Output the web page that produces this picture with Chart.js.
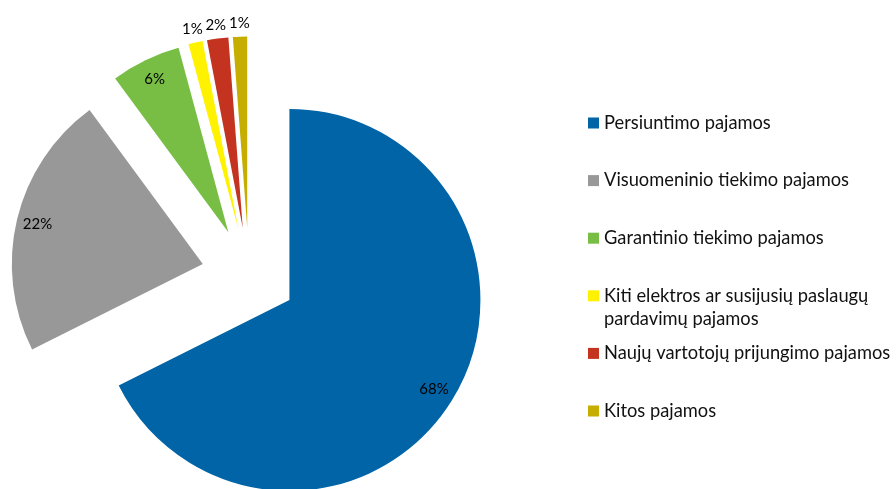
<!DOCTYPE html>
<html>
<head>
<meta charset="utf-8">
<script src="https://cdn.jsdelivr.net/npm/chart.js@4.4.1/dist/chart.umd.min.js"></script>
<style>
    html, body { margin: 0; padding: 0; background: #fff; }
    #wrap { width: 896px; height: 489px; position: relative; }
</style>
</head>
<body>
<div id="wrap"><canvas id="pieChart"></canvas></div>
<script>
const categories = [
    'Persiuntimo pajamos',
    'Visuomeninio tiekimo pajamos',
    'Garantinio tiekimo pajamos',
    ['Kiti elektros ar susijusių paslaugų', 'pardavimų pajamos'],
    'Naujų vartotojų prijungimo pajamos',
    'Kitos pajamos'
];
const shares = [67.6, 22.3, 5.9, 1.2, 1.8, 1.2];
const colors = ['#0064a6', '#989898', '#78be45', '#fff200', '#c3331f', '#c5ae00'];

const FONT = 'Lato, "Open Sans", sans-serif';
const explode = 190;   // chart.js shifts each slice by offset / 4

// chart.js grows the radius and trims the angle of an offset slice,
// undo both so every slice keeps the same radius and its full sweep
const keepShape = {
    id: 'keepShape',
    afterDatasetUpdate(chart, args) {
        const meta = chart.getDatasetMeta(args.index);
        const R = meta.controller.outerRadius;
        meta.data.forEach(arc => {
            const off = (arc.options.offset || 0) / 4;
            const fix = 1 - Math.sin(Math.min(Math.PI, arc.circumference));
            const ro = off * fix;
            const widen = ro / Math.PI / R / 2;
            arc.outerRadius = R - ro;
            arc.startAngle -= widen;
            arc.endAngle += widen;
        });
    }
};

const sliceLabels = {
    id: 'sliceLabels',
    afterDatasetDraw(chart, args) {
        const ctx = chart.ctx;
        const R = args.meta.controller.outerRadius;
        ctx.save();
        ctx.font = '15px ' + FONT;
        ctx.fillStyle = '#000';
        ctx.textAlign = 'center';
        ctx.textBaseline = 'middle';
        args.meta.data.forEach((arc, i) => {
            const h = (arc.startAngle + arc.endAngle) / 2;
            const off = (arc.options.offset || 0) / 4;
            const dist = shares[i] >= 5 ? R * 0.89 : R + 14;
            const x = arc.x + Math.cos(h) * (off + dist);
            const y = arc.y + Math.sin(h) * (off + dist);
            ctx.fillText(Math.round(shares[i]) + '%', x, y);
        });
        ctx.restore();
    }
};

const sideLegend = {
    id: 'sideLegend',
    afterDraw(chart) {
        const ctx = chart.ctx;
        ctx.save();
        ctx.font = '18.3px ' + FONT;
        ctx.textAlign = 'left';
        ctx.textBaseline = 'middle';
        categories.forEach((label, i) => {
            const y = 123 + i * 57.6;
            ctx.fillStyle = colors[i];
            ctx.fillRect(588, y - 5.5, 11, 11);
            ctx.fillStyle = '#111';
            const lines = Array.isArray(label) ? label : [label];
            lines.forEach((line, j) => ctx.fillText(line, 604, y + j * 23));
        });
        ctx.restore();
    }
};

function createPieChart() {
    const ctx = document.getElementById('pieChart').getContext('2d');
    new Chart(ctx, {
        type: 'pie',
        data: {
            labels: categories,
            datasets: [{
                data: shares,
                backgroundColor: colors,
                borderWidth: 0,
                offset: explode,
                hoverOffset: 0,
                clip: false
            }]
        },
        options: {
            responsive: true,
            maintainAspectRatio: false,
            animation: false,
            events: [],
            radius: 191,
            layout: {
                padding: { left: 0, right: 398, top: 61, bottom: 0 }
            },
            plugins: {
                legend: { display: false },
                tooltip: { enabled: false }
            }
        },
        plugins: [keepShape, sliceLabels, sideLegend]
    });
}

document.addEventListener('DOMContentLoaded', createPieChart);
</script>
</body>
</html>
